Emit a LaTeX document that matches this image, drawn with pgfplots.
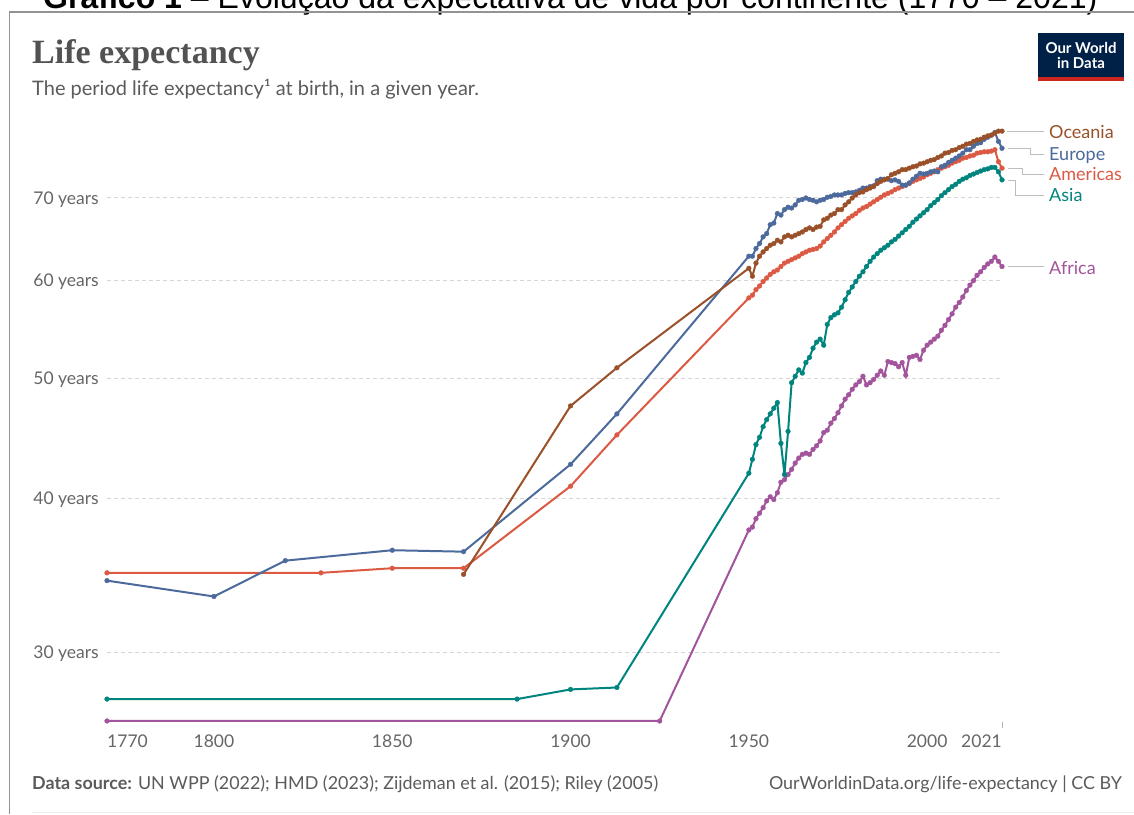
\documentclass[border=0pt]{standalone}
\usepackage{pgfplots}
\pgfplotsset{compat=1.18}
\usepackage{fontspec}
\setmainfont{Lato}
\newfontfamily\capfont{Liberation Sans}
\newfontfamily\titlefont{Liberation Serif}

\definecolor{oceania}{HTML}{9A5129}
\definecolor{europe}{HTML}{4C6A9C}
\definecolor{americas}{HTML}{DC5A44}
\definecolor{asia}{HTML}{00847E}
\definecolor{africa}{HTML}{A2559C}
\definecolor{txtgray}{HTML}{5B5B5B}
\definecolor{tickgray}{HTML}{666666}
\definecolor{gridgray}{HTML}{D6D6D6}
\definecolor{connector}{HTML}{BDBDBD}
\definecolor{owidnavy}{HTML}{002147}
\definecolor{owidred}{HTML}{CE261E}

\pgfplotsset{
  continent/.style={color=#1, line width=2pt, mark=*, mark size=2.4pt,
    mark options={solid, line width=0.3pt}},
}

\begin{document}
\begin{tikzpicture}[x=1pt,y=1pt]
\useasboundingbox (0,0) rectangle (1134,-814);
\fill[white] (0,0) rectangle (1134,-814);

% caption of the host document, cut at the top
\node[anchor=base west, inner sep=0pt] at (43,-8.5)
  {\resizebox{1054pt}{!}{\capfont\textbf{Gráfico 1} – Evolução da expectativa de vida por continente (1770 – 2021)}};
\draw[gray!85, line width=1.8pt] (9.5,-814) -- (9.5,-11.7) -- (1134,-11.7);

% header
\node[anchor=base west, inner sep=0pt, text=txtgray!90!black] at (32,-63)
  {\fontsize{34}{38}\selectfont\titlefont\bfseries Life expectancy};
\node[anchor=base west, inner sep=0pt, text=txtgray] at (32,-95)
  {\fontsize{20}{24}\selectfont The period life expectancy¹ at birth, in a given year.};

% logo
\fill[owidnavy] (1038,-33.3) rectangle (1124,-81);
\fill[owidred] (1038,-77.3) rectangle (1124,-81);
\node[align=center, text=white, inner sep=0pt,
  font=\fontsize{15}{15}\selectfont\bfseries] at (1081,-55.3) {Our World\\in Data};

\begin{axis}[
  at={(107pt,-721pt)}, anchor=south west,
  width=895pt, height=596pt, scale only axis,
  xmin=1770, xmax=2021,
  ymode=log, ymin=26.4, ymax=80.2,
  clip=false,
  axis line style={draw=none},
  major tick length=0pt,
  ymajorgrids,
  grid style={gridgray, line width=1pt, dash pattern=on 4pt off 3pt},
  ytick={30,40,50,60,70},
  yticklabels={30 years,40 years,50 years,60 years,70 years},
  yticklabel style={anchor=base east, inner sep=0pt, xshift=-8pt, yshift=-6.3pt,
    font=\fontsize{17.5}{21}\selectfont, text=tickgray},
  xtick={1800,1850,1900,1950,2000},
  xticklabels={1800,1850,1900,1950,2000},
  xticklabel style={anchor=base, inner sep=0pt, yshift=-26.3pt,
    font=\fontsize{17.5}{21}\selectfont, text=tickgray},
]
\addplot[continent=africa] coordinates {
  (1770,26.4) (1925,26.4) (1950,37.7) (1951,37.9) (1952,38.5) (1953,38.9)
  (1954,39.3) (1955,39.8) (1956,40.1) (1957,39.9) (1958,40.4) (1959,41.2)
  (1960,41.4) (1961,41.8) (1962,42.2) (1963,42.7) (1964,43.1) (1965,43.4)
  (1966,43.5) (1967,43.4) (1968,43.8) (1969,44.1) (1970,44.5) (1971,45.2)
  (1972,45.4) (1973,46.0) (1974,46.4) (1975,46.9) (1976,47.5) (1977,48.1)
  (1978,48.5) (1979,49.0) (1980,49.4) (1981,49.7) (1982,50.2) (1983,49.4)
  (1984,49.6) (1985,49.9) (1986,50.3) (1987,50.7) (1988,50.3) (1989,51.6)
  (1990,51.5) (1991,51.4) (1992,51.1) (1993,51.5) (1994,50.3) (1995,52.0)
  (1996,52.1) (1997,52.2) (1998,51.8) (1999,52.7) (2000,53.2) (2001,53.5)
  (2002,53.8) (2003,54.1) (2004,54.7) (2005,55.2) (2006,55.8) (2007,56.4)
  (2008,57.1) (2009,57.6) (2010,58.2) (2011,58.9) (2012,59.5) (2013,60.0)
  (2014,60.6) (2015,61.0) (2016,61.5) (2017,61.9) (2018,62.2) (2019,62.7)
  (2020,62.2) (2021,61.6)
};
\addplot[continent=asia] coordinates {
  (1770,27.5) (1885,27.5) (1900,28.0) (1913,28.1) (1950,41.9) (1951,43.0)
  (1952,44.2) (1953,44.8) (1954,45.7) (1955,46.3) (1956,46.8) (1957,47.3)
  (1958,47.8) (1959,44.3) (1960,41.8) (1961,45.3) (1962,49.6) (1963,50.2)
  (1964,50.8) (1965,50.5) (1966,51.5) (1967,52.0) (1968,52.9) (1969,53.5)
  (1970,53.8) (1971,53.2) (1972,55.3) (1973,56.0) (1974,56.3) (1975,56.5)
  (1976,57.1) (1977,57.9) (1978,58.7) (1979,59.3) (1980,59.9) (1981,60.5)
  (1982,61.0) (1983,61.6) (1984,62.2) (1985,62.7) (1986,63.1) (1987,63.5)
  (1988,63.8) (1989,64.1) (1990,64.5) (1991,64.8) (1992,65.2) (1993,65.6)
  (1994,66.0) (1995,66.4) (1996,66.9) (1997,67.3) (1998,67.7) (1999,68.1)
  (2000,68.5) (2001,69.0) (2002,69.4) (2003,69.8) (2004,70.3) (2005,70.7)
  (2006,71.1) (2007,71.5) (2008,71.8) (2009,72.2) (2010,72.5) (2011,72.7)
  (2012,73.0) (2013,73.2) (2014,73.4) (2015,73.6) (2016,73.8) (2017,73.9)
  (2018,74.1) (2019,74.1) (2020,73.5) (2021,72.4)
};
\addplot[continent=americas] coordinates {
  (1770,34.8) (1830,34.8) (1850,35.1) (1870,35.1) (1900,40.9) (1913,45.0)
  (1950,58.1) (1951,58.4) (1952,59.0) (1953,59.4) (1954,59.9) (1955,60.3)
  (1956,60.7) (1957,61.0) (1958,61.2) (1959,61.6) (1960,62.0) (1961,62.2)
  (1962,62.4) (1963,62.6) (1964,62.8) (1965,63.1) (1966,63.3) (1967,63.5)
  (1968,63.6) (1969,63.7) (1970,64.0) (1971,64.5) (1972,64.9) (1973,65.3)
  (1974,65.7) (1975,66.2) (1976,66.6) (1977,67.0) (1978,67.4) (1979,67.7)
  (1980,68.0) (1981,68.4) (1982,68.7) (1983,68.9) (1984,69.2) (1985,69.5)
  (1986,69.8) (1987,70.1) (1988,70.4) (1989,70.6) (1990,70.8) (1991,71.1)
  (1992,71.3) (1993,71.5) (1994,71.7) (1995,71.9) (1996,72.2) (1997,72.4)
  (1998,72.6) (1999,72.8) (2000,73.1) (2001,73.3) (2002,73.5) (2003,73.8)
  (2004,74.0) (2005,74.2) (2006,74.4) (2007,74.7) (2008,74.9) (2009,75.1)
  (2010,75.4) (2011,75.5) (2012,75.7) (2013,75.8) (2014,76.1) (2015,76.2)
  (2016,76.3) (2017,76.3) (2018,76.4) (2019,76.6) (2020,74.9) (2021,74.0)
};
\addplot[continent=europe] coordinates {
  (1770,34.3) (1800,33.3) (1820,35.6) (1850,36.3) (1870,36.2) (1900,42.6)
  (1913,46.8) (1950,62.8) (1951,62.8) (1952,63.7) (1953,64.3) (1954,65.1)
  (1955,65.5) (1956,66.6) (1957,66.8) (1958,68.0) (1959,67.8) (1960,68.5)
  (1961,68.8) (1962,68.7) (1963,69.1) (1964,69.7) (1965,69.8) (1966,70.0)
  (1967,69.8) (1968,69.7) (1969,69.5) (1970,69.7) (1971,69.8) (1972,70.1)
  (1973,70.2) (1974,70.4) (1975,70.4) (1976,70.4) (1977,70.6) (1978,70.7)
  (1979,70.7) (1980,70.8) (1981,71.0) (1982,71.3) (1983,71.3) (1984,71.5)
  (1985,71.6) (1986,72.3) (1987,72.5) (1988,72.5) (1989,72.5) (1990,72.3)
  (1991,72.4) (1992,72.2) (1993,71.7) (1994,71.7) (1995,72.0) (1996,72.5)
  (1997,72.9) (1998,73.3) (1999,73.2) (2000,73.3) (2001,73.5) (2002,73.6)
  (2003,73.5) (2004,74.2) (2005,74.4) (2006,74.8) (2007,75.1) (2008,75.4)
  (2009,75.7) (2010,76.1) (2011,76.6) (2012,76.6) (2013,77.1) (2014,77.5)
  (2015,77.6) (2016,78.1) (2017,78.4) (2018,78.7) (2019,79.1) (2020,77.8)
  (2021,76.8)
};
\addplot[continent=oceania] coordinates {
  (1870,34.7) (1900,47.5) (1913,51.0) (1950,61.4) (1951,60.5) (1952,62.0)
  (1953,62.8) (1954,63.3) (1955,63.7) (1956,64.1) (1957,64.3) (1958,64.7)
  (1959,64.5) (1960,65.1) (1961,65.3) (1962,65.1) (1963,65.3) (1964,65.5)
  (1965,65.7) (1966,66.0) (1967,66.2) (1968,66.0) (1969,66.3) (1970,66.4)
  (1971,67.2) (1972,67.4) (1973,67.8) (1974,68.0) (1975,68.5) (1976,68.5)
  (1977,69.1) (1978,69.5) (1979,70.0) (1980,70.4) (1981,70.7) (1982,70.8)
  (1983,71.1) (1984,71.3) (1985,71.5) (1986,71.9) (1987,72.2) (1988,72.4)
  (1989,72.6) (1990,73.1) (1991,73.3) (1992,73.5) (1993,73.8) (1994,73.8)
  (1995,74.0) (1996,74.2) (1997,74.3) (1998,74.6) (1999,74.7) (2000,74.9)
  (2001,75.1) (2002,75.2) (2003,75.5) (2004,75.7) (2005,76.1) (2006,76.2)
  (2007,76.5) (2008,76.6) (2009,76.9) (2010,77.1) (2011,77.4) (2012,77.5)
  (2013,77.8) (2014,78.0) (2015,78.1) (2016,78.4) (2017,78.6) (2018,78.7)
  (2019,79.0) (2020,79.3) (2021,79.3)
};
\end{axis}

% end labels of the time axis
\node[anchor=base west, inner sep=0pt, text=tickgray] at (107,-747.3)
  {\fontsize{17.5}{21}\selectfont 1770};
\node[anchor=base east, inner sep=0pt, text=tickgray] at (1002,-747.3)
  {\fontsize{17.5}{21}\selectfont 2021};
\draw[gray!60, line width=1pt] (1002,-722) -- (1002,-728);

% series labels and their connectors
\begin{scope}[connector, line width=1pt]
  \draw (1007,-131.2) -- (1044,-131.2);
  \draw (1008,-148.2) -- (1030,-148.2) -- (1030,-154) -- (1044,-154);
  \draw (1008,-168.1) -- (1022,-168.1) -- (1022,-174.3) -- (1044,-174.3);
  \draw (1008,-180) -- (1015,-180) -- (1015,-195) -- (1044,-195);
  \draw (1008,-266.6) -- (1044,-266.6);
\end{scope}
\begin{scope}[every node/.style={anchor=base west, inner sep=0pt,
    font=\fontsize{18}{21}\selectfont}]
  \node[text=oceania] at (1049,-138.2) {Oceania};
  \node[text=europe] at (1049,-160.5) {Europe};
  \node[text=americas] at (1049,-180.8) {Americas};
  \node[text=asia] at (1049,-201.5) {Asia};
  \node[text=africa] at (1049,-274.8) {Africa};
\end{scope}

% footer
\node[anchor=base west, inner sep=0pt, text=txtgray] at (32,-789.5)
  {\fontsize{17.9}{21}\selectfont\textbf{Data source:} UN WPP (2022); HMD (2023); Zijdeman et al. (2015); Riley (2005)};
\node[anchor=base east, inner sep=0pt, text=txtgray] at (1122,-789.5)
  {\fontsize{17.9}{21}\selectfont OurWorldinData.org/life-expectancy | CC BY};
\draw[gray!15, line width=1pt] (32,-812) -- (1134,-812);
\end{tikzpicture}
\end{document}
